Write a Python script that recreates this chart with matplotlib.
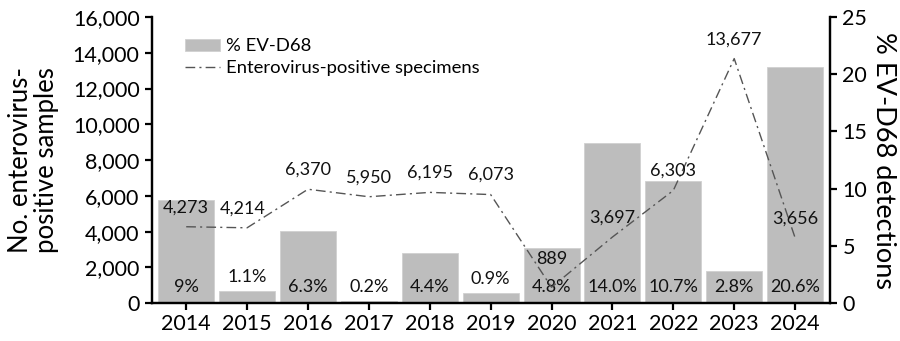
import numpy as np
import matplotlib
matplotlib.use("Agg")
import matplotlib.pyplot as plt
from matplotlib.ticker import FuncFormatter, MultipleLocator

plt.rcParams["font.family"] = ["Lato", "DejaVu Sans"]

years = [2014, 2015, 2016, 2017, 2018, 2019, 2020, 2021, 2022, 2023, 2024]
pct_evd68 = [9.0, 1.1, 6.3, 0.2, 4.4, 0.9, 4.8, 14.0, 10.7, 2.8, 20.6]
pct_labels = ["9%", "1.1%", "6.3%", "0.2%", "4.4%", "0.9%", "4.8%",
              "14.0%", "10.7%", "2.8%", "20.6%"]
ev_positive = [4273, 4214, 6370, 5950, 6195, 6073, 889, 3697, 6303, 13677, 3656]

x = np.arange(len(years))

fig = plt.figure(figsize=(9, 3.41), dpi=100)
ax1 = fig.add_axes([0.169, 0.111, 0.753, 0.839])
ax2 = ax1.twinx()

# bars on right axis, line drawn above them on left axis
bars = ax2.bar(x, pct_evd68, width=0.92, color="#bdbdbd",
               edgecolor="#d0d0d0", linewidth=0.6, label="% EV-D68")
line, = ax1.plot(x, ev_positive, color="#555555", lw=1.0,
                 linestyle=(0, (7, 3, 1.5, 3)),
                 label="Enterovirus-positive specimens")
ax1.set_zorder(ax2.get_zorder() + 1)
ax1.patch.set_visible(False)

ax1.set_xlim(-0.56, len(years) - 1 + 0.57)
ax1.set_ylim(0, 16000)
ax2.set_ylim(0, 25)
ax1.yaxis.set_major_locator(MultipleLocator(2000))
ax2.yaxis.set_major_locator(MultipleLocator(5))
ax1.yaxis.set_major_formatter(FuncFormatter(lambda v, p: "{:,.0f}".format(v)))
ax1.set_xticks(x)
ax1.set_xticklabels([str(y) for y in years])

for a in (ax1, ax2):
    a.spines["top"].set_visible(False)
    for s in a.spines.values():
        s.set_linewidth(1.6)
    a.tick_params(labelsize=15.5, width=1.6, length=5, pad=4)
ax1.tick_params(axis="x", pad=3)

ax1.set_ylabel("No. enterovirus-\npositive samples", fontsize=18.5,
               linespacing=1.05, labelpad=10)
ax2.set_ylabel("% EV-D68 detections", fontsize=19.5, rotation=270,
               labelpad=21)

# count labels above line points
for i, v in enumerate(ev_positive):
    dy = 20 if years[i] == 2020 else 14
    dx = -3 if years[i] == 2015 else 0
    ax1.annotate("{:,}".format(v), (x[i], v), xytext=(dx, dy),
                 textcoords="offset points", ha="center", va="center",
                 fontsize=13, color="#111111")

# percent labels inside bar bottoms, or just above very short bars
px_per_pct = 286 / 25.0
for i, p in enumerate(pct_evd68):
    bar_px = p * px_per_pct
    h_px = bar_px + 13.5 if bar_px < 16 else 16
    ax2.text(x[i], h_px / px_per_pct, pct_labels[i], ha="center",
             va="center", fontsize=13, color="#111111")

fig.legend(handles=[bars, line], loc="upper left",
           bbox_to_anchor=(0.195, 0.915), frameon=False, fontsize=13.3,
           handlelength=1.9, handleheight=0.6, labelspacing=0.3,
           handletextpad=0.35, borderpad=0)

fig.savefig("out.png", dpi=100)
